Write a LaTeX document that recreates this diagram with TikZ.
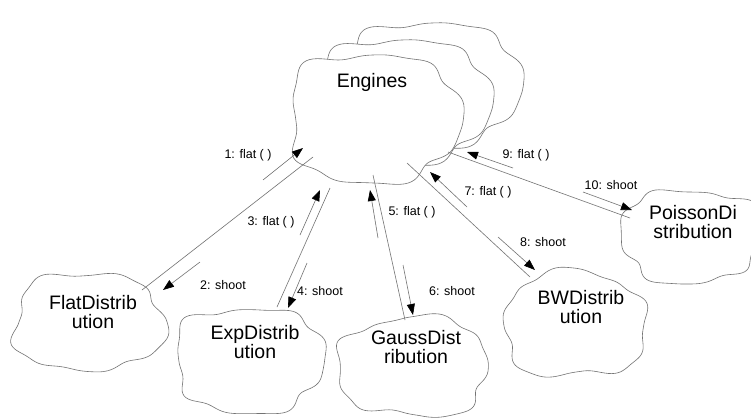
\documentclass[tikz,border=0pt]{standalone}
\usepackage{fontspec}
\setmainfont{Liberation Sans}
\usetikzlibrary{arrows.meta}
\tikzset{
  cl/.style={draw=black!55, line width=0.6pt, fill=white},
  link/.style={draw=black!55, line width=0.6pt},
  msg/.style={draw=black!55, line width=0.6pt, -{Triangle[length=11pt,width=8pt,black]}},
  nm/.style={align=center, inner sep=0pt, font=\fontsize{19.5}{18.5}\selectfont},
  lab/.style={inner sep=0pt, font=\fontsize{12.5}{14}\selectfont},
}
\newcommand{\cloudat}[5]{%
  \filldraw[cl] plot[domain=0:358,samples=140,smooth]
   ({#1+#3*(1+0.04*sin(3*\x+2*#5)+0.05*sin(5*\x+#5)+0.03*sin(9*\x+3*#5))*cos(\x)*pow(abs(cos(\x))+0.001,-0.22)},
    {#2+#4*(1+0.04*sin(3*\x+2*#5)+0.05*sin(5*\x+#5)+0.03*sin(9*\x+3*#5))*sin(\x)*pow(abs(sin(\x))+0.001,-0.22)}) -- cycle;}
\begin{document}
\begin{tikzpicture}[x=1pt,y=-1pt]
\useasboundingbox[fill=white] (0,0) rectangle (751,418);
% Engines (stacked)
\cloudat{433}{84}{84}{62}{60}
\cloudat{403}{101}{84}{62}{60}
\cloudat{373}{118}{84}{64}{60}
% distributions
\cloudat{88}{322}{74}{48}{20}
\cloudat{249}{360}{73}{52}{80}
\cloudat{413}{367}{74}{49}{140}
\cloudat{575}{325}{70}{52}{200}
\cloudat{690}{236}{68}{46}{260}
% texts
\node[nm] (eng) at (372,82) {Engines};
\node[nm] (flat) at (93,312) {FlatDistrib\\ution};
\node[nm] (exp) at (255,342) {ExpDistrib\\ution};
\node[nm] (gauss) at (416,347) {GaussDist\\ribution};
\node[nm] (bw) at (581,307) {BWDistrib\\ution};
\node[nm] (poi) at (693,222) {PoissonDi\\stribution};
% link endpoints
\coordinate (e1) at (313,157); \coordinate (f1) at (142,290);
\coordinate (e2) at (330,188); \coordinate (x2) at (277,307);
\coordinate (e3) at (373,175); \coordinate (g3) at (405,320);
\coordinate (e4) at (407,163); \coordinate (b4) at (530,277);
\coordinate (e5) at (448,152); \coordinate (p5) at (630,218);
\draw[link] (e1) -- (f1);
\draw[link] (e2) -- (x2);
\draw[link] (e3) -- (g3);
\draw[link] (e4) -- (b4);
\draw[link] (e5) -- (p5);
% messages
\coordinate (m1a) at (263,180); \coordinate (m1b) at (303,148);
\coordinate (m2a) at (200,262); \coordinate (m2b) at (163,290);
\coordinate (m3a) at (300,235); \coordinate (m3b) at (320,190);
\coordinate (m4a) at (307,263); \coordinate (m4b) at (288,308);
\coordinate (m5a) at (378,238); \coordinate (m5b) at (370,190);
\coordinate (m6a) at (403,265); \coordinate (m6b) at (413,315);
\coordinate (m7a) at (467,207); \coordinate (m7b) at (430,172);
\coordinate (m8a) at (498,237); \coordinate (m8b) at (535,270);
\coordinate (m9a) at (513,168); \coordinate (m9b) at (467,152);
\coordinate (m10a) at (583,192); \coordinate (m10b) at (632,210);
\draw[msg] (m1a) -- (m1b);
\draw[msg] (m2a) -- (m2b);
\draw[msg] (m3a) -- (m3b);
\draw[msg] (m4a) -- (m4b);
\draw[msg] (m5a) -- (m5b);
\draw[msg] (m6a) -- (m6b);
\draw[msg] (m7a) -- (m7b);
\draw[msg] (m8a) -- (m8b);
\draw[msg] (m9a) -- (m9b);
\draw[msg] (m10a) -- (m10b);
\node[lab] (l1) at (248,155) {1: flat ( )};
\node[lab] (l2) at (223,285) {2: shoot};
\node[lab] (l3) at (271,222) {3: flat ( )};
\node[lab] (l4) at (320,291) {4: shoot};
\node[lab] (l5) at (412,212) {5: flat ( )};
\node[lab] (l6) at (452,291) {6: shoot};
\node[lab] (l7) at (488,192) {7: flat ( )};
\node[lab] (l8) at (543,242) {8: shoot};
\node[lab] (l9) at (526,155) {9: flat ( )};
\node[lab] (l10) at (611,185) {10: shoot};
\end{tikzpicture}
\end{document}
